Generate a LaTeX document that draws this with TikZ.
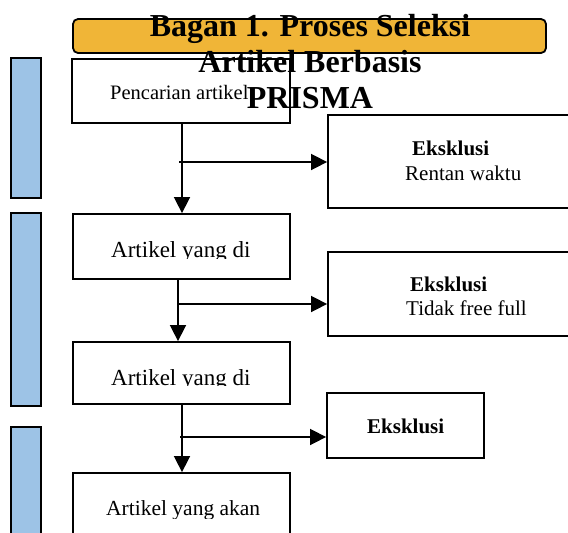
\documentclass[tikz,border=0pt]{standalone}
\usepackage{fontspec}
\setmainfont{Liberation Serif}
\usetikzlibrary{arrows.meta}
\definecolor{titlefill}{RGB}{240,181,55}
\definecolor{barfill}{RGB}{157,195,230}
\tikzset{
  box/.style={draw=black, line width=1.8pt, fill=white, inner sep=0pt},
  bar/.style={draw=black, line width=1.6pt, fill=barfill, inner sep=0pt, minimum width=30pt},
  titlebox/.style={draw=black, line width=1.8pt, fill=titlefill, rounded corners=5pt, inner sep=0pt},
  arr/.style={line width=1.6pt, -{Triangle[length=16pt,width=16pt]}},
  txt/.style={inner sep=0pt, anchor=base west},
  big/.style={inner sep=0pt, anchor=base, font=\fontsize{32}{37}\selectfont\bfseries},
}
\begin{document}
\begin{tikzpicture}[x=1pt,y=-1pt]
\useasboundingbox (0,0) rectangle (568,533);
\clip (0,0) rectangle (568,533);
% side bars
\node[bar, minimum height=140pt] (bar1) at (26,128) {};
\node[bar, minimum height=193pt] (bar2) at (26,309.5) {};
\node[bar, minimum height=133pt] (bar3) at (26,493.5) {};
% title box
\node[titlebox, minimum width=473pt, minimum height=34pt] (title) at (309.5,36) {};
% main boxes
\node[box, minimum width=218pt, minimum height=64pt] (A) at (181,91) {};
\node[box, minimum width=217pt, minimum height=65pt] (B) at (181.5,246.5) {};
\node[box, minimum width=217pt, minimum height=62pt] (C) at (181.5,373) {};
\node[box, minimum width=217pt, minimum height=87pt] (D) at (181.5,516.5) {};
% exclusion boxes
\node[box, minimum width=272pt, minimum height=93pt] (E1) at (464,161.5) {};
\node[box, minimum width=272pt, minimum height=84pt] (E2) at (464,294) {};
\node[box, minimum width=157pt, minimum height=65pt] (E3) at (405.5,425.5) {};
% connectors
\coordinate (j1) at (179,162);
\coordinate (j2) at (178,304);
\coordinate (j3) at (180,437);
\draw[arr] ([xshift=1pt]A.south) -- ([xshift=1pt]A.south |- B.north);
\draw[arr] (j1) -- (E1.west |- j1);
\draw[arr] ([xshift=-3.5pt]B.south) -- ([xshift=-3.5pt]B.south |- C.north);
\draw[arr] (j2) -- (E2.west |- j2);
\draw[arr] ([xshift=0.5pt]C.south) -- ([xshift=0.5pt]C.south |- D.north);
\draw[arr] (j3) -- (E3.west |- j3);
% texts in main boxes
\node[txt, font=\fontsize{20.5}{24}\selectfont] (tA) at (110,99) {Pencarian artikel};
\begin{scope}
\clip (73,214) rectangle (290,258.5);
\node[txt, font=\fontsize{23}{27}\selectfont] (tB) at (111,257) {Artikel yang di};
\end{scope}
\begin{scope}
\clip (73,342) rectangle (290,385.5);
\node[txt, font=\fontsize{23}{27}\selectfont] (tC) at (111,385) {Artikel yang di};
\end{scope}
\begin{scope}
\clip (73,473) rectangle (290,518);
\node[txt, font=\fontsize{21.5}{26}\selectfont] (tD) at (106,515) {Artikel yang akan};
\end{scope}
% texts in exclusion boxes
\node[txt, font=\fontsize{21}{25}\selectfont\bfseries] (e1a) at (412,155) {Eksklusi};
\node[txt, font=\fontsize{21}{25}\selectfont] (e1b) at (405,180) {Rentan waktu};
\node[txt, font=\fontsize{21}{25}\selectfont\bfseries] (e2a) at (410,291) {Eksklusi};
\node[txt, font=\fontsize{21}{25}\selectfont] (e2b) at (406,315) {Tidak free full};
\node[txt, font=\fontsize{21}{25}\selectfont\bfseries] (e3a) at (367,433) {Eksklusi};
% title text
\node[big] (t1) at (310,36) {Bagan 1. Proses Seleksi};
\node[big] (t2) at (310,72) {Artikel Berbasis};
\node[big] (t3) at (310,108) {PRISMA};
\end{tikzpicture}
\end{document}
